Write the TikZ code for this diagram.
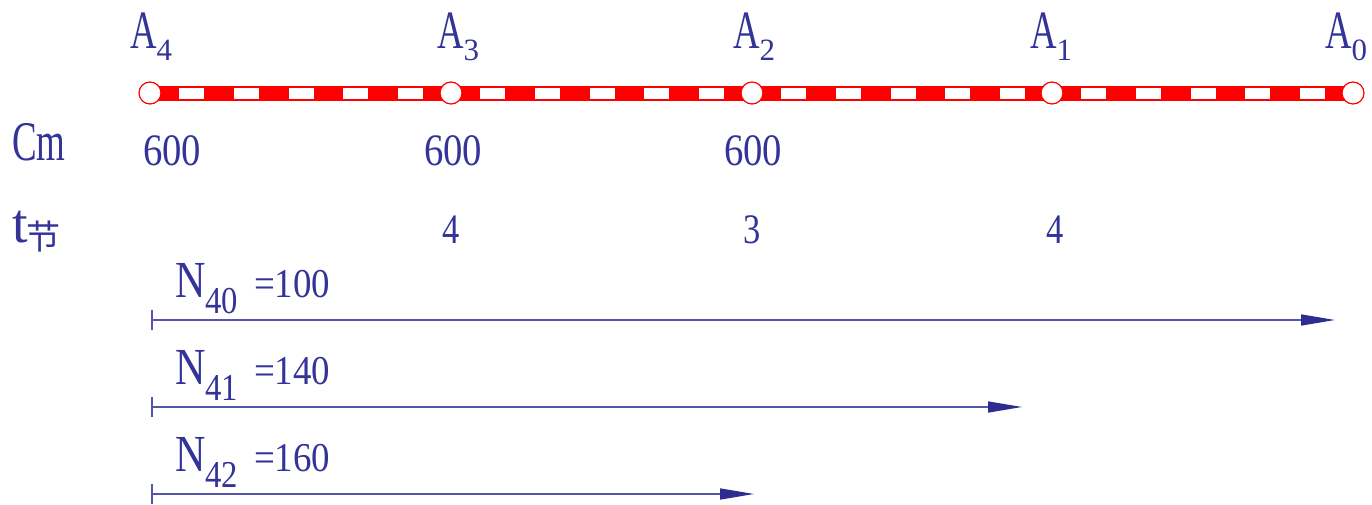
\documentclass[tikz,border=0pt]{standalone}
\usepackage{fontspec}
\usepackage{graphicx}
\setmainfont{Liberation Serif}
\newfontfamily\cjk{Noto Sans CJK SC}
\usetikzlibrary{arrows.meta,calc}
\definecolor{txt}{RGB}{51,51,153}
\definecolor{ln}{RGB}{85,85,175}
\definecolor{arr}{RGB}{45,45,145}
\definecolor{rail}{RGB}{255,0,0}
\newcommand\hs[3]{\scalebox{#1}[1]{\fontsize{#2}{#2}\selectfont #3}}
\begin{document}
\begin{tikzpicture}[x=0.5pt,y=-0.5pt,
  lbl/.style={inner sep=0pt,outer sep=0pt,text=txt,anchor=base west},
  stn/.style={circle,draw=rail,fill=white,line width=0.6pt,minimum size=11pt,inner sep=0pt},
  railband/.style={rail,line width=7.5pt},
  gap/.style={fill=white},
  arw/.style={draw=ln,line width=0.75pt,-{Triangle[length=17pt,width=5.5pt,color=arr]}},
  tick/.style={draw=ln,line width=0.75pt}]
\useasboundingbox (0,0) rectangle (1372,504);

% station points
\coordinate (p4) at (150,93);
\coordinate (p3) at (451,93);
\coordinate (p2) at (752,93);
\coordinate (p1) at (1052,93);
\coordinate (p0) at (1353,93);

% rail band
\draw[railband] (p4) -- (p0);
\foreach \a in {p4,p3,p2,p1}{
  \foreach \o in {29,84,139,193,248}{
    \fill[gap] ($(\a)+(\o,-5.5)$) rectangle ++(25,11.5);
  }
}

% stations
\node[stn] (A4) at (p4) {};
\node[stn] (A3) at (p3) {};
\node[stn] (A2) at (p2) {};
\node[stn] (A1) at (p1) {};
\node[stn] (A0) at (p0) {};

% station labels
\node[lbl] (lA4) at (130,48) {\hs{0.68}{27pt}{A}\raisebox{-6pt}{\hs{1}{15.5pt}{4}}};
\node[lbl] (lA3) at (437,48) {\hs{0.68}{27pt}{A}\raisebox{-6pt}{\hs{1}{15.5pt}{3}}};
\node[lbl] (lA2) at (733,48) {\hs{0.68}{27pt}{A}\raisebox{-6pt}{\hs{1}{15.5pt}{2}}};
\node[lbl] (lA1) at (1030,48) {\hs{0.68}{27pt}{A}\raisebox{-6pt}{\hs{1}{15.5pt}{1}}};
\node[lbl] (lA0) at (1325,48) {\hs{0.68}{27pt}{A}\raisebox{-6pt}{\hs{1}{15.5pt}{0}}};

% row headers
\node[lbl] (cm) at (12,160) {\hs{0.66}{28pt}{Cm}};
\node[lbl] (tt) at (12,242) {\hs{1}{28pt}{t}};
\node[inner sep=0pt,outer sep=0pt,text=txt] (jie) at (43,237) {\cjk\fontsize{17pt}{17pt}\selectfont 节};

% Cm values
\node[lbl] (c4) at (143,165) {\hs{0.86}{22.5pt}{600}};
\node[lbl] (c3) at (424,165) {\hs{0.86}{22.5pt}{600}};
\node[lbl] (c2) at (724,165) {\hs{0.86}{22.5pt}{600}};

% t values
\node[lbl,anchor=base] (t3) at (451.5,243) {\hs{0.82}{21pt}{4}};
\node[lbl,anchor=base] (t2) at (752,243) {\hs{0.82}{21pt}{3}};
\node[lbl,anchor=base] (t1) at (1055,243) {\hs{0.82}{21pt}{4}};

% N labels
\node[lbl] (n40) at (175,297) {\hs{0.81}{26pt}{N}\raisebox{-8pt}{\hs{0.86}{19pt}{40}}\hspace{8pt}\hs{0.9}{20.5pt}{=100}};
\node[lbl] (n41) at (175,384) {\hs{0.81}{26pt}{N}\raisebox{-8pt}{\hs{0.86}{19pt}{41}}\hspace{8pt}\hs{0.9}{20.5pt}{=140}};
\node[lbl] (n42) at (175,471) {\hs{0.81}{26pt}{N}\raisebox{-8pt}{\hs{0.86}{19pt}{42}}\hspace{8pt}\hs{0.9}{20.5pt}{=160}};

% arrows
\coordinate (s40) at (152,320);
\coordinate (e40) at (1335,320);
\coordinate (s41) at (152,407);
\coordinate (e41) at (1022,407);
\coordinate (s42) at (152,494);
\coordinate (e42) at (754,494);
\foreach \s/\e in {s40/e40,s41/e41,s42/e42}{
  \draw[tick] ($(\s)+(0,-10)$) -- ($(\s)+(0,10)$);
  \draw[arw] (\s) -- (\e);
}
\end{tikzpicture}
\end{document}
